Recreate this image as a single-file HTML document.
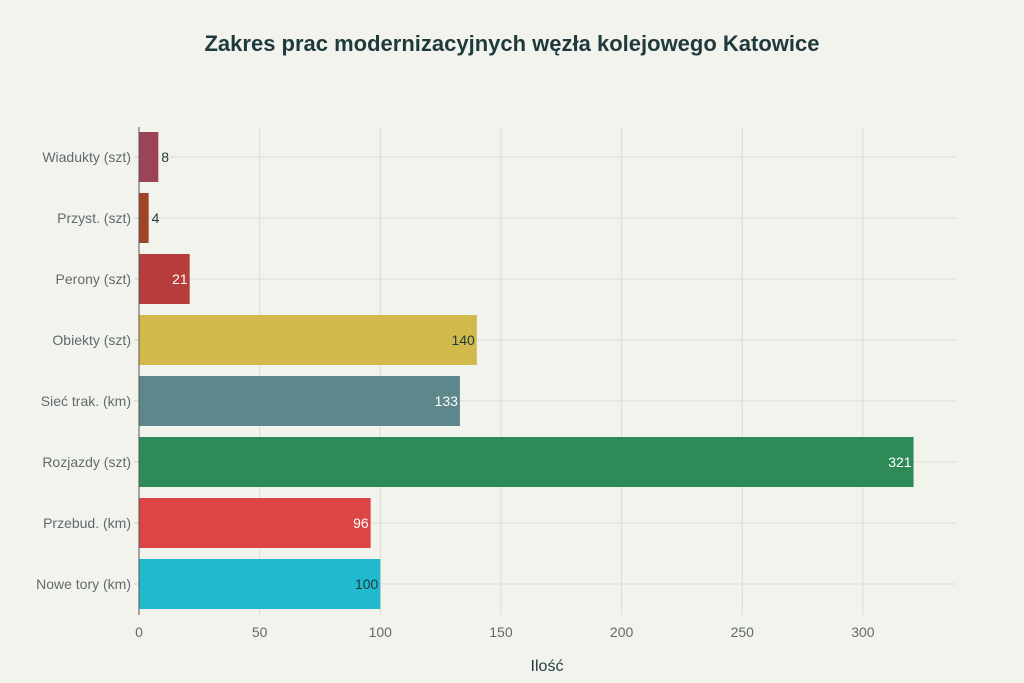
<!DOCTYPE html>
<html><head><meta charset="utf-8"><style>
body{margin:0;background:#f3f3ee;font-family:"Liberation Sans",sans-serif}
svg{display:block}
</style></head><body>
<svg width="1024" height="683" xmlns="http://www.w3.org/2000/svg">
<rect width="1024" height="683" fill="#f3f3ee"/>
<text x="512" y="51" text-anchor="middle" font-size="22" font-weight="bold" fill="#1f3a3d">Zakres prac modernizacyjnych węzła kolejowego Katowice</text>
<g id="grid"></g>
<g id="bars"></g>
<g id="axes"></g>
<text x="547" y="671" text-anchor="middle" font-size="16" fill="#1f3a3d">Ilość</text>
</svg>
<script>
const categories=["Wiadukty (szt)","Przyst. (szt)","Perony (szt)","Obiekty (szt)","Sieć trak. (km)","Rozjazdy (szt)","Przebud. (km)","Nowe tory (km)"];
const values=[8,4,21,140,133,321,96,100];
const colors=["#9a4457","#9e4526","#b73c3c","#d2b94b","#5d878b","#2e8b57","#db4545","#21b9cd"];
const labelColors=["#fff","#1f3a3d","#fff","#1f3a3d","#fff","#fff","#fff","#1f3a3d"];
const xTicks=[0,50,100,150,200,250,300];
const NS="http://www.w3.org/2000/svg";
const x0=139,pxPer=2.413,plotT=127,rowH=61,barH=50,plotR=956,plotB=615;
const xs=v=>x0+v*pxPer, yc=i=>plotT+rowH*i+rowH/2-0.5;
function mk(t,a,p){const e=document.createElementNS(NS,t);for(const k in a)e.setAttribute(k,a[k]);p.appendChild(e);return e;}
const grid=document.getElementById('grid'),bars=document.getElementById('bars'),axes=document.getElementById('axes');
xTicks.forEach(t=>{
 const l=mk('line',{x1:xs(t),x2:xs(t),y1:plotT,y2:plotB,stroke:'#dcdcd6','stroke-width':1},grid);
 
 
 const tx=mk('text',{x:xs(t),y:637,'text-anchor':'middle','font-size':14,fill:'#5f6b6d'},axes);
 tx.textContent=t;
 
 
});
categories.forEach((c,i)=>{
 const g=mk('line',{x1:x0,x2:plotR,y1:yc(i),y2:yc(i),stroke:'#dcdcd6','stroke-width':1},grid);
 
 
 const tk=mk('line',{x1:x0-5,x2:x0,y1:yc(i),y2:yc(i),stroke:'#cfcfc9'},axes);
 
 
 const lb=mk('text',{x:x0-8,y:yc(i)+5,'text-anchor':'end','font-size':14,fill:'#5f6b6d'},axes);
 lb.textContent=c;
 
 
 const w=xs(values[i])-x0;
 const r=mk('rect',{x:x0,y:yc(i)-barH/2,width:w,height:barH,fill:colors[i]},bars);
 
 
 const inside=w>25;
 const v=mk('text',{x:inside?xs(values[i])-2:xs(values[i])+3,y:yc(i)+5,'text-anchor':inside?'end':'start','font-size':14,fill:inside?labelColors[i]:'#1f3a3d'},bars);
 v.textContent=values[i];
 
 
});
const ax=mk('line',{x1:x0,x2:x0,y1:plotT,y2:plotB,stroke:'#555','stroke-width':1},axes);


</script>
</body></html>
